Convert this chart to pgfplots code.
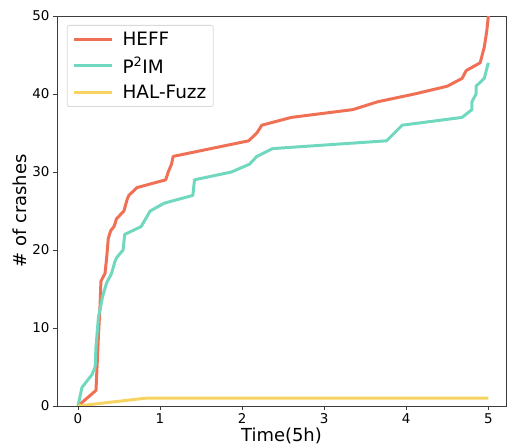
\documentclass[border=0pt]{standalone}
\usepackage{pgfplots}
\pgfplotsset{compat=1.18}
\usepackage{fontspec}
\setmainfont{DejaVu Sans}
\setsansfont{DejaVu Sans}

\definecolor{heff}{RGB}{240,112,86}
\definecolor{ptim}{RGB}{112,216,190}
\definecolor{hal}{RGB}{247,212,98}
\definecolor{spine}{RGB}{60,60,60}

\begin{document}
\begin{tikzpicture}
\begin{axis}[
    scale only axis,
    width=449bp, height=390bp,
    xmin=-0.255, xmax=5.215,
    ymin=0, ymax=50,
    xtick={0,1,2,3,4,5},
    ytick={0,10,20,30,40,50},
    tick align=outside,
    tick pos=left,
    major tick length=4bp,
    axis line style={spine, line width=0.8pt},
    every tick/.style={spine, line width=0.8pt},
    /pgf/number format/assume math mode=true,
    tick label style={font=\fontsize{13.5}{16}\selectfont},
    xlabel={Time(5h)},
    ylabel={\# of crashes},
    label style={font=\fontsize{18}{21}\selectfont},
    xlabel style={yshift=3bp},
    ylabel style={yshift=-1bp},
    legend style={at={(0.022,0.977)}, anchor=north west, draw=black!15,
        rounded corners=2pt, font=\fontsize{18.5}{21}\selectfont,
        row sep=6bp, inner sep=5bp, line width=0.8pt},
    legend cell align=left,
    legend image code/.code={\draw[#1, line width=3pt] (0cm,0cm) -- (1.35cm,0cm);
        \path (1.6cm,0cm);},
]
\addplot[heff, line width=3pt, line join=round] coordinates {
(0,0) (0.22,2) (0.25,9) (0.27,13) (0.28,16) (0.33,17) (0.35,19) (0.37,21.5)
(0.40,22.5) (0.44,23) (0.47,24) (0.56,25) (0.60,26.5) (0.62,27) (0.72,28)
(1.07,29) (1.10,30) (1.14,31) (1.16,32) (2.08,34) (2.18,35) (2.24,36)
(2.60,37) (3.35,38) (3.65,39) (4.10,40) (4.50,41) (4.68,42) (4.73,43)
(4.90,44) (4.95,46) (4.98,48) (5.00,50)
};
\addlegendentry{HEFF}
\addplot[ptim, line width=3pt, line join=round] coordinates {
(0,0) (0.05,2.4) (0.17,4) (0.21,5) (0.22,7.6) (0.25,11.4) (0.30,14)
(0.35,15.8) (0.41,17) (0.45,18.5) (0.47,19) (0.55,20) (0.57,22) (0.77,23)
(0.88,25) (1.05,26) (1.40,27) (1.42,29) (1.87,30) (2.09,31) (2.18,32)
(2.37,33) (3.76,34) (3.95,36) (4.68,37) (4.80,38) (4.80,39) (4.85,40)
(4.85,41) (4.95,42) (5.00,44)
};
\addlegendentry{P\textsuperscript{2}IM}
\addplot[hal, line width=3pt, line join=round] coordinates {
(0,0) (0.82,1) (5,1)
};
\addlegendentry{HAL-Fuzz}
\end{axis}
\path ([xshift=-57bp,yshift=-39bp]current axis.south west) rectangle ([xshift=2bp,yshift=16bp]current axis.north east);
\end{tikzpicture}
\end{document}
